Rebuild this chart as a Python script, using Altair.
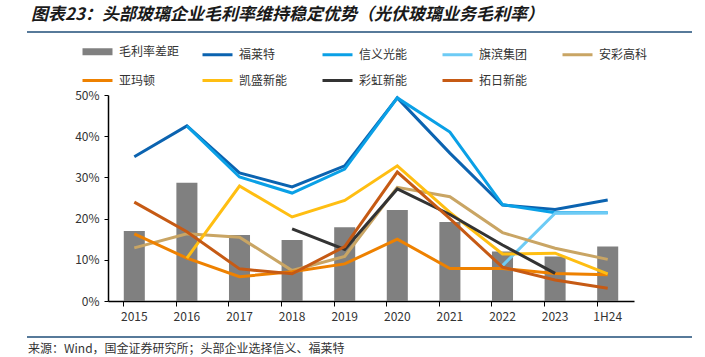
import altair as alt
import pandas as pd

years = ["2015", "2016", "2017", "2018", "2019", "2020", "2021", "2022", "2023", "1H24"]

gap = [17.0, 28.7, 16.0, 14.8, 17.9, 22.1, 19.2, 12.0, 10.8, 13.2]

flat = [35.0, 42.5, 31.1, 27.7, 32.8, 49.3, 35.9, 23.3, 22.2, 24.5]
xinyi = [None, 42.5, 30.1, 26.2, 32.0, 49.3, 41.0, 23.4, 21.4, 21.4]
qibin = [None, None, None, None, None, None, None, 8.6, 21.3, 21.4]
ancai = [12.9, 16.3, 15.5, 7.4, 10.8, 27.6, 25.3, 16.6, 12.8, 10.1]
almaden = [16.3, 10.4, 5.9, 7.1, 9.0, 15.0, 7.9, 7.9, 6.7, 6.4]
kaisheng = [None, 10.4, 27.9, 20.4, 24.4, 32.8, 21.5, 11.4, 11.6, 6.6]
caihong = [None, None, None, 17.5, 12.5, 27.2, 21.0, 13.6, 6.7, None]
tuori = [24.0, 16.8, 7.8, 6.6, 13.2, 31.3, 20.0, 8.2, 5.1, 3.1]

series_names = ["毛利率差距", "福莱特", "信义光能", "旗滨集团", "安彩高科",
                "亚玛顿", "凯盛新能", "彩虹新能", "拓日新能"]
series_colors = ["#808080", "#0B63B0", "#0AA0E6", "#6DCBF5", "#C9A564",
                 "#EE8100", "#FFBE12", "#333333", "#C65A14"]
series_widths = [7, 3, 3, 3, 3, 3, 3, 3, 3]

line_values = {
    "福莱特": flat, "信义光能": xinyi, "旗滨集团": qibin, "安彩高科": ancai,
    "亚玛顿": almaden, "凯盛新能": kaisheng, "彩虹新能": caihong, "拓日新能": tuori,
}

rows = []
for name, vals in line_values.items():
    for y, v in zip(years, vals):
        if v is not None:
            rows.append({"year": y, "series": name, "value": v})
line_df = pd.DataFrame(rows)
bar_df = pd.DataFrame({"year": years, "value": gap, "series": "毛利率差距"})

FONT = "Noto Sans CJK SC"

xenc = alt.X("year:N", sort=years, title=None,
             scale=alt.Scale(paddingInner=0.6, paddingOuter=0.3),
             axis=alt.Axis(labelAngle=0, bandPosition=0, tickSize=5, labelPadding=5,
                           domainColor="#000000", tickColor="#000000", domainWidth=1.5,
                           labelFontSize=12, labelColor="#333333", labelFont=FONT))
yenc = alt.Y("value:Q", title=None,
             scale=alt.Scale(domain=[0, 50], nice=False),
             axis=alt.Axis(values=[0, 10, 20, 30, 40, 50], labelExpr="datum.value + '%'",
                           tickSize=4, labelPadding=5, grid=False,
                           domainColor="#000000", tickColor="#000000", domainWidth=1.5,
                           labelFontSize=12, labelColor="#333333", labelFont=FONT))

legend_kw = dict(title=None, orient="none", legendX=-24, legendY=-57,
                 columns=5, direction="horizontal",
                 symbolType="M-1.5,0H1.5", symbolSize=400,
                 labelFontSize=12, labelFont=FONT, labelColor="#333333",
                 labelOffset=8, columnPadding=16, rowPadding=3,
                 gridAlign="all", padding=0)

bars = alt.Chart(bar_df).mark_bar(color="#808080").encode(x=xenc, y=yenc)

lines = alt.Chart(line_df).mark_line(strokeCap="butt").encode(
    x=xenc, y=yenc,
    color=alt.Color("series:N",
                    scale=alt.Scale(domain=series_names, range=series_colors),
                    sort=series_names,
                    legend=alt.Legend(**legend_kw)),
    strokeWidth=alt.StrokeWidth("series:N",
                                scale=alt.Scale(type="ordinal", domain=series_names,
                                                range=series_widths),
                                sort=series_names,
                                legend=alt.Legend(**legend_kw)),
)

deco = pd.DataFrame({"k": [0]})
title_txt = alt.Chart(deco).mark_text(
    text="图表23：头部玻璃企业毛利率维持稳定优势（光伏玻璃业务毛利率）",
    font=FONT, fontSize=17, fontWeight="bold", fontStyle="italic",
    align="left", baseline="middle", color="#1a1a1a"
).encode(x=alt.value(-77), y=alt.value(-80))

top_rule = alt.Chart(deco).mark_rule(color="#1F4E79", strokeWidth=1.5).encode(
    x=alt.value(-81), x2=alt.value(584), y=alt.value(-63))
bottom_rule = alt.Chart(deco).mark_rule(color="#1F4E79", strokeWidth=1.5).encode(
    x=alt.value(-81), x2=alt.value(584), y=alt.value(242))

source_txt = alt.Chart(deco).mark_text(
    text="来源：Wind，国金证券研究所；头部企业选择信义、福莱特",
    font=FONT, fontSize=12, align="left", baseline="middle", color="#333333"
).encode(x=alt.value(-80), y=alt.value(254))

chart = alt.layer(bars, lines, title_txt, top_rule, bottom_rule, source_txt).properties(
    width=526, height=206,
    autosize=alt.AutoSizeParams(type="none"),
    padding={"left": 108, "top": 95, "right": 71, "bottom": 56},
    background="#ffffff",
).configure_view(stroke=None)

chart.save("out.html", embed_options={"renderer": "svg", "actions": False})
